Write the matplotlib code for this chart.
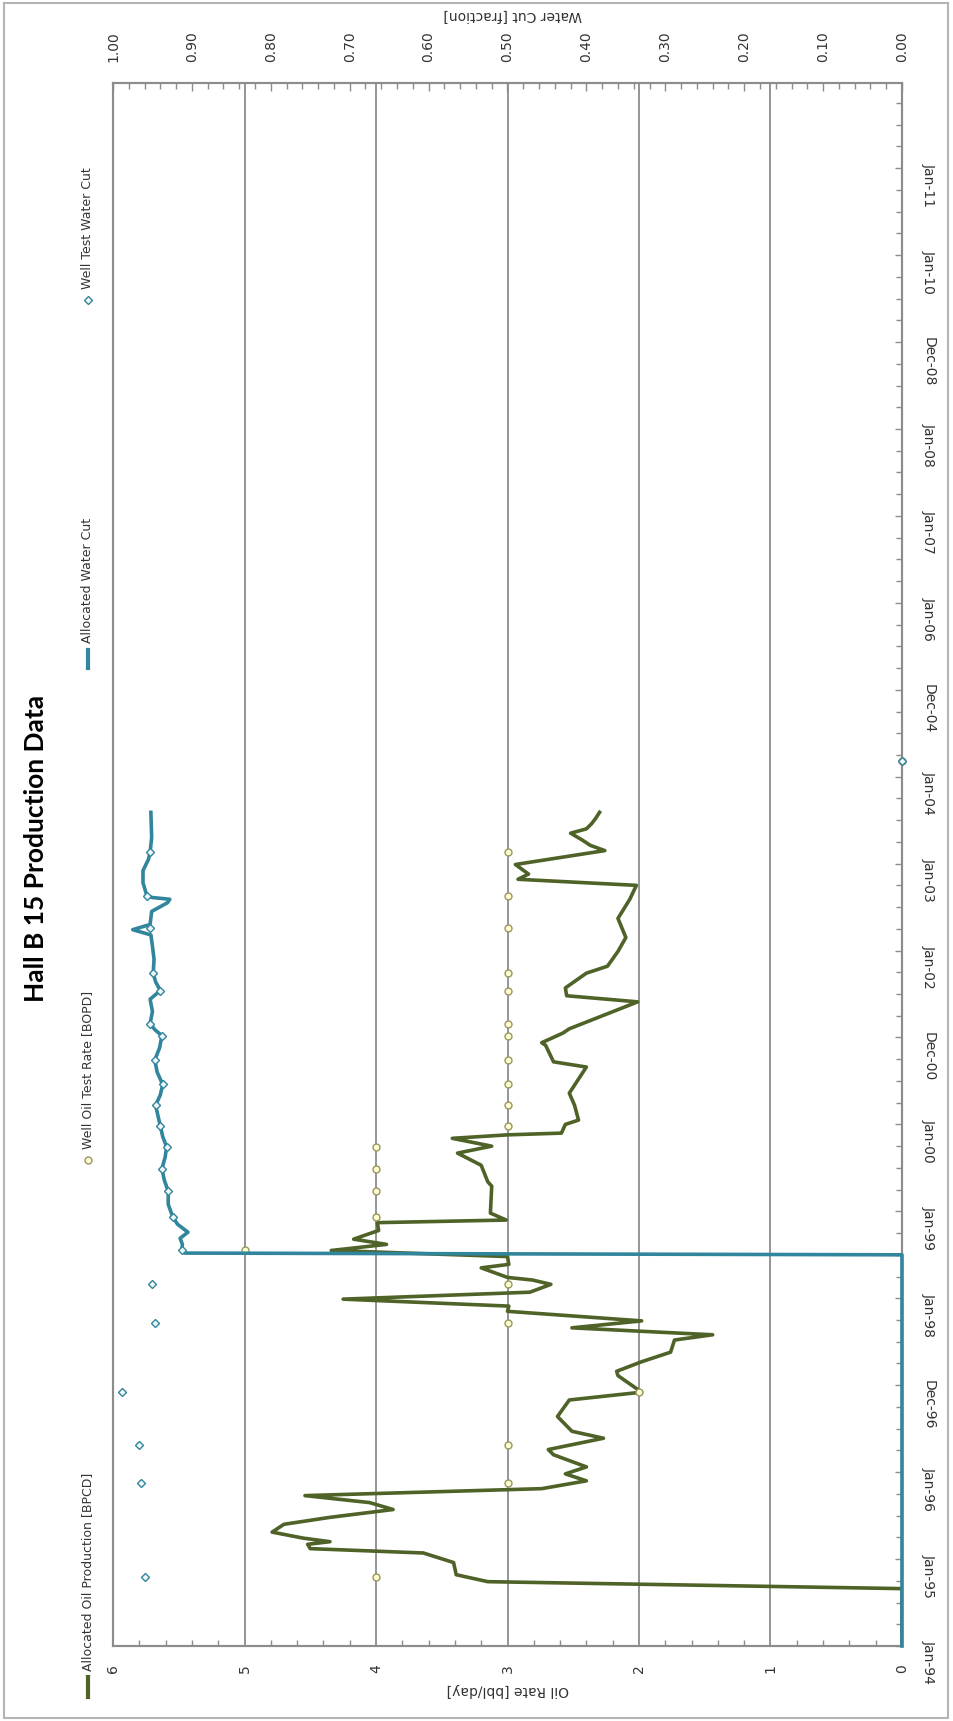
import numpy as np
import matplotlib
matplotlib.use("Agg")
import matplotlib.pyplot as plt
import matplotlib.dates as mdates
from matplotlib.lines import Line2D
from matplotlib.patches import Rectangle
from matplotlib.ticker import FixedLocator, MultipleLocator, FormatStrFormatter

# Allocated oil production, decimal year vs. BPCD
oil_year = [1994.00, 1994.66, 1994.74, 1994.82, 1994.96, 1995.07, 1995.12, 1995.17, 1995.20, 1995.24,
            1995.31, 1995.40, 1995.48, 1995.57, 1995.65, 1995.73, 1995.81, 1995.90, 1995.98, 1996.06,
            1996.20, 1996.26, 1996.39, 1996.47, 1996.64, 1996.83, 1996.92, 1997.11, 1997.16, 1997.27,
            1997.38, 1997.52, 1997.58, 1997.66, 1997.74, 1997.85, 1997.91, 1997.99, 1998.07, 1998.16,
            1998.21, 1998.24, 1998.35, 1998.39, 1998.48, 1998.55, 1998.62, 1998.68, 1998.78, 1998.87,
            1998.90, 1998.98, 1999.29, 1999.34, 1999.53, 1999.67, 1999.75, 1999.84, 1999.88, 1999.90,
            2000.00, 2000.05, 2000.22, 2000.36, 2000.66, 2000.72, 2000.91, 2000.94, 2001.05, 2001.10,
            2001.41, 2001.48, 2001.57, 2001.74, 2001.82, 2001.99, 2002.15, 2002.37, 2002.59, 2002.75,
            2002.82, 2002.88, 2002.99, 2003.15, 2003.21, 2003.27, 2003.35, 2003.40, 2003.46, 2003.52,
            2003.59]
oil_rate = [0.00, 0.00, 3.15, 3.39, 3.41, 3.64, 4.50, 4.52, 4.35, 4.55,
            4.79, 4.70, 4.35, 3.87, 4.05, 4.54, 2.74, 2.40, 2.56, 2.40,
            2.65, 2.69, 2.27, 2.51, 2.62, 2.53, 1.98, 2.16, 2.17, 1.98,
            1.76, 1.73, 1.44, 2.51, 1.98, 3.00, 2.99, 4.25, 2.83, 2.67,
            2.81, 3.00, 3.20, 2.99, 3.00, 4.34, 3.92, 4.17, 3.98, 3.99,
            3.01, 3.13, 3.12, 3.15, 3.20, 3.38, 3.12, 3.42, 3.00, 2.59,
            2.56, 2.46, 2.49, 2.53, 2.40, 2.65, 2.71, 2.74, 2.58, 2.53,
            2.01, 2.55, 2.56, 2.40, 2.24, 2.16, 2.10, 2.16, 2.07, 2.02,
            2.92, 2.84, 2.94, 2.26, 2.37, 2.43, 2.52, 2.40, 2.36, 2.33,
            2.30]

# Allocated water cut
wc_year = [1994.00, 1998.50, 1998.52, 1998.55, 1998.62, 1998.69, 1998.76, 1998.85, 1998.93, 1999.08,
           1999.23, 1999.36, 1999.49, 1999.62, 1999.74, 1999.86, 1999.98, 2000.10, 2000.22, 2000.34,
           2000.46, 2000.60, 2000.74, 2000.88, 2001.02, 2001.09, 2001.16, 2001.30, 2001.44, 2001.54,
           2001.64, 2001.74, 2001.90, 2002.05, 2002.18, 2002.24, 2002.30, 2002.45, 2002.55, 2002.59,
           2002.61, 2002.63, 2002.78, 2002.92, 2003.05, 2003.13, 2003.30, 2003.59]
wc_frac = [0.000, 0.000, 0.909, 0.913, 0.912, 0.915, 0.905, 0.918, 0.924, 0.930,
           0.930, 0.935, 0.938, 0.934, 0.932, 0.937, 0.940, 0.943, 0.946, 0.940,
           0.937, 0.944, 0.947, 0.941, 0.938, 0.947, 0.953, 0.950, 0.953, 0.940,
           0.946, 0.949, 0.948, 0.950, 0.952, 0.975, 0.953, 0.951, 0.931, 0.928,
           0.950, 0.957, 0.962, 0.962, 0.955, 0.953, 0.951, 0.952]

# Well tests
test_year = [1994.79, 1995.87, 1996.31, 1996.92, 1997.72, 1998.17, 1998.55, 1998.93, 1999.23, 1999.49,
             1999.74, 1999.98, 2000.22, 2000.46, 2000.74, 2001.02, 2001.16, 2001.54, 2001.74, 2002.26,
             2002.63, 2003.13, 2004.18]
test_oil = [4, 3, 3, 2, 3, 3, 5, 4, 4, 4,
            4, 3, 3, 3, 3, 3, 3, 3, 3, 3,
            3, 3, 0]
test_wc = [0.960, 0.964, 0.967, 0.988, 0.947, 0.951, 0.913, 0.924, 0.930, 0.938,
           0.932, 0.940, 0.946, 0.937, 0.947, 0.938, 0.953, 0.940, 0.949, 0.953,
           0.957, 0.953, 0.000]

OIL = "#4f6228"
WATER = "#31859c"
GRID = "#8c8c8c"
TEXT = "#333333"
TEST_FACE = "#ffffd2"
TEST_EDGE = "#9a9660"
FONT = ["DejaVu Sans"]

START = mdates.date2num(np.datetime64("1994-01-01"))
YEAR = 365.25


def to_num(years):
    return START + (np.asarray(years, float) - 1994.0) * YEAR


W, H = 954, 1721
fig = plt.figure(figsize=(W / 100, H / 100), dpi=100)
fig.patch.set_facecolor("white")

left, right, top, bottom = 113, 902, 83, 1646
ax = fig.add_axes([left / W, 1 - bottom / H, (right - left) / W, (bottom - top) / H])
ax.set_xlim(6, 0)
ax.set_ylim(to_num(1994), to_num(2011.98))

# vertical gridlines for oil rate
ax.xaxis.set_major_locator(MultipleLocator(1))
ax.xaxis.set_minor_locator(MultipleLocator(0.2))
ax.xaxis.set_major_formatter(FormatStrFormatter("%d"))
ax.grid(True, axis="x", which="major", color=GRID, lw=1.3)
ax.set_axisbelow(True)

# date axis on the right
ax.yaxis.tick_right()
ax.yaxis.set_major_locator(FixedLocator(to_num(1994 + np.arange(18))))
ax.yaxis.set_minor_locator(FixedLocator(to_num(1994 + np.arange(0, 18, 0.25))))
ax.yaxis.set_major_formatter(mdates.DateFormatter("%b-%y"))

ax.tick_params(axis="x", which="both", direction="in", colors=GRID, labelcolor=TEXT,
               labelsize=10, labelrotation=90, pad=13, bottom=True, top=False)
ax.tick_params(axis="x", which="major", length=0)
ax.tick_params(axis="x", which="minor", length=4, width=1)
ax.tick_params(axis="y", which="both", direction="in", colors=GRID, labelcolor=TEXT,
               labelsize=10, labelrotation=270, pad=14, left=False, right=True)
ax.tick_params(axis="y", which="major", length=5, width=1)
ax.tick_params(axis="y", which="minor", length=4, width=1)

ax.plot(oil_rate, to_num(oil_year), color=OIL, lw=2.6, solid_joinstyle="round", zorder=3)
ax.plot(test_oil, to_num(test_year), ls="none", marker="o", ms=5, mfc=TEST_FACE,
        mec=TEST_EDGE, mew=1.0, zorder=4, clip_on=False)

# water cut on a twin axis across the top
ax_wc = ax.twiny()
ax_wc.set_xlim(1, 0)
ax_wc.xaxis.set_major_locator(MultipleLocator(0.1))
ax_wc.xaxis.set_minor_locator(MultipleLocator(0.02))
ax_wc.xaxis.set_major_formatter(FormatStrFormatter("%.2f"))
ax_wc.tick_params(axis="x", which="both", direction="in", colors=GRID, labelcolor=TEXT,
                  labelsize=10, labelrotation=90, pad=15, top=True, bottom=False)
ax_wc.tick_params(axis="x", which="major", length=6, width=1)
ax_wc.tick_params(axis="x", which="minor", length=4, width=1)

ax_wc.plot(wc_frac, to_num(wc_year), color=WATER, lw=2.6, solid_joinstyle="round",
           zorder=3, clip_on=False)
ax_wc.plot(test_wc, to_num(test_year), ls="none", marker="D", ms=4.5, mfc="#eef6f8",
           mec=WATER, mew=1.0, zorder=4, clip_on=False)

for a in (ax, ax_wc):
    for s in a.spines.values():
        s.set_color(GRID)
        s.set_linewidth(1.5)

for lab in ax.get_xticklabels() + ax_wc.get_xticklabels() + ax.get_yticklabels():
    lab.set_family(FONT)

# axis titles (upside down)
fig.text(508 / W, 1 - 1690 / H, "Oil Rate [bbl/day]", rotation=180, ha="center",
         va="center", fontsize=10, color=TEXT, family=FONT)
fig.text(513 / W, 1 - 15 / H, "Water Cut [fraction]", rotation=180, ha="center",
         va="center", fontsize=10, color=TEXT, family=FONT)

# title
fig.text(36 / W, 1 - 848 / H, "Hall B 15 Production Data", rotation=90, ha="center",
         va="center", fontsize=19, fontweight="bold", color="black",
         family=["Lato", "DejaVu Sans"])

# legend, laid out along the left edge
LX = 88 / W


def fy(px):
    return 1 - px / H


fig.add_artist(Line2D([LX, LX], [fy(1697), fy(1677)], transform=fig.transFigure,
                      color=OIL, lw=3))
fig.add_artist(Line2D([LX], [fy(1160)], transform=fig.transFigure, ls="none",
                      marker="o", ms=5, mfc=TEST_FACE, mec=TEST_EDGE, mew=1.0))
fig.add_artist(Line2D([LX, LX], [fy(668), fy(650)], transform=fig.transFigure,
                      color=WATER, lw=3))
fig.add_artist(Line2D([LX], [fy(300)], transform=fig.transFigure, ls="none",
                      marker="D", ms=4.5, mfc="#eef6f8", mec=WATER, mew=1.0))

legend_items = [("Allocated Oil Production [BPCD]", 1671),
                ("Well Oil Test Rate [BOPD]", 1149),
                ("Allocated Water Cut", 643),
                ("Well Test Water Cut", 289)]
for text, y in legend_items:
    fig.text(LX, fy(y), text, rotation=90, rotation_mode="anchor", ha="left",
             va="center", fontsize=9, color=TEXT, family=FONT)

# chart frame
fig.add_artist(Rectangle((4 / W, 3 / H), 944 / W, 1715 / H, transform=fig.transFigure,
                         fill=False, edgecolor="#b4b4b4", lw=1.5))

fig.savefig("out.png", dpi=100, facecolor="white")
